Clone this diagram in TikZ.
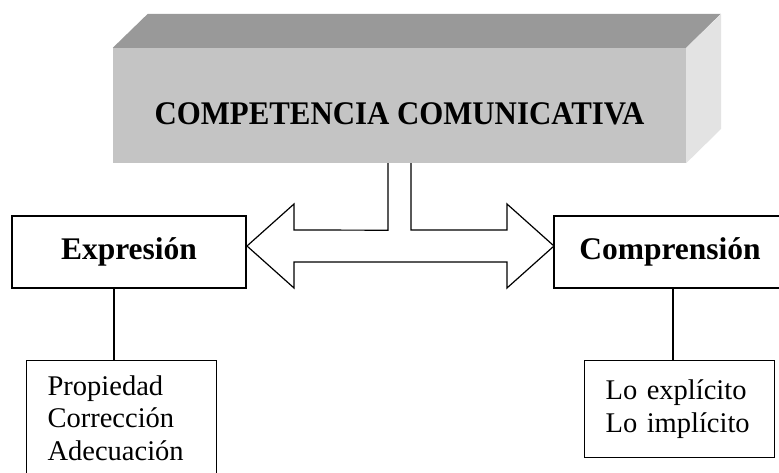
\documentclass[tikz,border=0pt]{standalone}
\usepackage{fontspec}
\setmainfont{Liberation Serif}
\usetikzlibrary{positioning,calc}
\tikzset{
  cube/.style={rectangle, fill=black!23, minimum width=573pt, minimum height=115pt, inner sep=0pt},
  title/.style={font=\fontsize{33}{36}\selectfont\bfseries, inner sep=0pt},
  topic/.style={rectangle, draw=black, line width=1.2pt, fill=white, minimum width=234pt, minimum height=72pt, font=\fontsize{31.5}{36}\selectfont\bfseries},
  items/.style={rectangle, draw=black, line width=1.2pt, fill=white, align=left, text width=148pt, inner xsep=21pt, inner ysep=15pt, font=\fontsize{28.5}{32.5}\selectfont},
  connect/.style={line width=1.2pt},
  twoway/.style={draw=black, fill=white, line width=1.2pt, line join=miter}
}

\begin{document}
\begin{tikzpicture}[x=1pt,y=-1pt]
    \useasboundingbox (0,0) rectangle (779,473);
    \clip (0,0) rectangle (779,473);

    \node[cube] (CC) at (399.5,105.5) {};
    \fill[black!40] (CC.north west) -- ++(35,-34) -- ++(573,0) -- (CC.north east) -- cycle;
    \fill[black!11] (CC.north east) -- ++(35,-34) -- ++(0,115) -- (CC.south east) -- cycle;
    \node[title,anchor=base] (Title) at (399.5,125) {\scalebox{0.935}[1]{COMPETENCIA COMUNICATIVA}};

    \node[topic] (Expr) at (129,252) {Expresión};
    \node[topic,minimum width=232pt] (Compr) at (670,252) {Comprensión};
    \node[items,anchor=north west] (Props) at (26,360) {Propiedad\\Corrección\\Adecuación};
    \node[items,anchor=north west,minimum height=97pt] (Lo) at (584,360) {Lo explícito\\Lo implícito};

    % double arrow between the two branches
    \coordinate (ltip) at (247,246);
    \coordinate (rtip) at (554,246);
    \draw[twoway] ([xshift=-11.5pt]CC.south) -- ++(0,67) -- (294,230) -- (294,204) -- (ltip)
        -- (294,288) -- (294,262) -- (507,262) -- (507,288) -- (rtip)
        -- (507,204) -- (507,230) -- (411,230) -- ([xshift=11.5pt]CC.south);

    \coordinate (jL) at (114,0);
    \coordinate (jR) at (673,0);
    \draw[connect] (Expr.south -| jL) -- (Props.north -| jL);
    \draw[connect] (Compr.south -| jR) -- (Lo.north -| jR);
\end{tikzpicture}
\end{document}
